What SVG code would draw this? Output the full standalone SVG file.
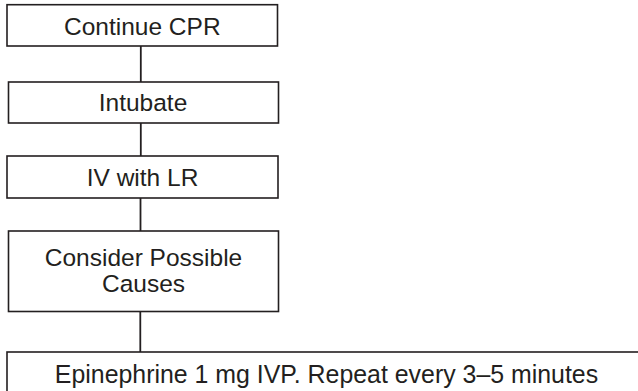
<svg xmlns="http://www.w3.org/2000/svg" width="638" height="391" viewBox="0 0 638 391">
<style>
.box{fill:#fff;stroke:#231f20;stroke-width:1.6}
.lbl{font-family:"Liberation Sans",Arial,Helvetica,sans-serif;font-size:24.5px;fill:#231f20;text-anchor:middle}
.conn{stroke:#231f20;stroke-width:1.8;fill:none}
</style>
<rect width="638" height="391" fill="#fff"/>
<g id="connectors">
<line class="conn" x1="140.8" y1="46" x2="140.8" y2="82"/>
<line class="conn" x1="140.8" y1="123" x2="140.8" y2="156"/>
<line class="conn" x1="140.5" y1="198" x2="140.5" y2="231"/>
<line class="conn" x1="140.3" y1="311.5" x2="140.3" y2="352"/>
</g>
<g id="n1">
<rect class="box" x="7" y="4.7" width="270.5" height="41.3"/>
<text class="lbl" x="142.3" y="34.5">Continue CPR</text>
</g>
<g id="n2">
<rect class="box" x="8.5" y="82" width="270" height="41"/>
<text class="lbl" x="143" y="111">Intubate</text>
</g>
<g id="n3">
<rect class="box" x="7" y="156" width="271" height="42"/>
<text class="lbl" x="142.5" y="186">IV with LR</text>
</g>
<g id="n4">
<rect class="box" x="8.5" y="231" width="270" height="80.5"/>
<text class="lbl" x="143.5" y="266">Consider Possible</text>
<text class="lbl" x="143.5" y="292">Causes</text>
</g>
<g id="n5">
<rect class="box" x="7" y="352" width="640" height="50"/>
<text class="lbl" x="326.5" y="382.5" style="font-size:24.9px">Epinephrine 1 mg IVP. Repeat every 3–5 minutes</text>
</g>
</svg>
